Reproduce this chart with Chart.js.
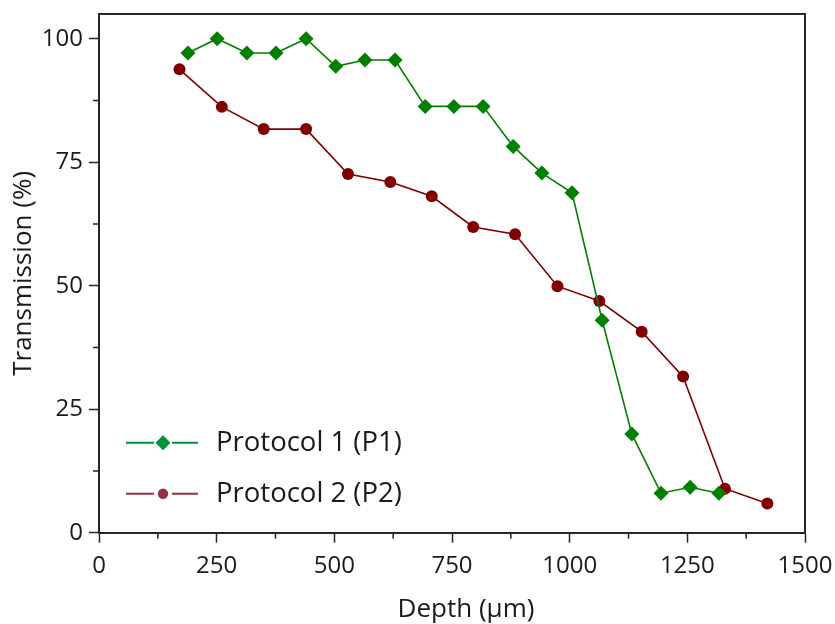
<!DOCTYPE html>
<html>
<head>
<meta charset="utf-8">
<script src="https://cdn.jsdelivr.net/npm/chart.js@4.4.0/dist/chart.umd.min.js"></script>
<style>
  html, body { margin: 0; padding: 0; background: #ffffff; }
  #wrap { width: 835px; height: 624px; position: relative; }
</style>
</head>
<body>
<div id="wrap"><canvas id="c" width="835" height="624"></canvas></div>
<script>
// ---- data ----
const p1Depth = [189, 251, 314, 376, 440, 503, 565, 629, 693, 754, 816, 880, 941, 1005, 1069, 1132, 1194, 1256, 1317];
const p1Trans = [97.1, 100, 97.1, 97.1, 100, 94.4, 95.7, 95.7, 86.3, 86.3, 86.3, 78.2, 72.8, 68.8, 43.0, 20.0, 8.0, 9.2, 8.0];
const p2Depth = [171, 261, 350, 440, 529, 619, 707, 795, 884, 974, 1063, 1153, 1241, 1330, 1420];
const p2Trans = [93.8, 86.2, 81.7, 81.7, 72.6, 71.0, 68.1, 61.9, 60.4, 49.9, 46.9, 40.7, 31.6, 8.9, 5.9];
const seriesNames = ['Protocol 1 (P1)', 'Protocol 2 (P2)'];
const xTickValues = [0, 250, 500, 750, 1000, 1250, 1500];
const yTickValues = [0, 25, 50, 75, 100];
const xTitle = 'Depth (\u00b5m)';
const yTitle = 'Transmission (%)';

const FONT = '"Open Sans", "Noto Sans", sans-serif';
const TXT = '#1a1a1a';
const AX = '#262626';

function pts(xs, ys) { return xs.map((x, i) => ({ x: x, y: ys[i] })); }

const framePlugin = {
  id: 'frame',
  afterDraw(chart) {
    const ctx = chart.ctx;
    const a = chart.chartArea;
    const xs = chart.scales.x, ys = chart.scales.y;
    ctx.save();
    // top & right frame
    ctx.strokeStyle = AX;
    ctx.lineWidth = 2;
    ctx.beginPath();
    ctx.moveTo(a.left, a.top);
    ctx.lineTo(a.right, a.top);
    ctx.lineTo(a.right, a.bottom);
    ctx.stroke();
    // minor ticks
    ctx.lineWidth = 1.5;
    ctx.beginPath();
    for (let i = 0; i < xTickValues.length - 1; i++) {
      const px = xs.getPixelForValue((xTickValues[i] + xTickValues[i + 1]) / 2);
      ctx.moveTo(px, a.bottom);
      ctx.lineTo(px, a.bottom + 6);
    }
    for (let i = 0; i < yTickValues.length - 1; i++) {
      const py = ys.getPixelForValue((yTickValues[i] + yTickValues[i + 1]) / 2);
      ctx.moveTo(a.left, py);
      ctx.lineTo(a.left - 6, py);
    }
    ctx.stroke();
    // x axis title (offset like the reference)
    ctx.fillStyle = TXT;
    ctx.font = '26px ' + FONT;
    ctx.textAlign = 'center';
    ctx.textBaseline = 'alphabetic';
    ctx.fillText(xTitle, (a.left + a.right) / 2 + 14, a.bottom + 84);
    // legend
    const items = [
      { name: seriesNames[0], color: '#008f3c', style: 'diamond', dy: 0 },
      { name: seriesNames[1], color: '#953142', style: 'circle', dy: 51 }
    ];
    const lx = a.left + 27, ly = a.bottom - 90;
    items.forEach(it => {
      const y = ly + it.dy;
      const cx = lx + 37;
      ctx.strokeStyle = it.color;
      ctx.fillStyle = it.color;
      ctx.lineWidth = 2;
      ctx.beginPath();
      ctx.moveTo(lx, y); ctx.lineTo(cx - 9, y);
      ctx.moveTo(cx + 9, y); ctx.lineTo(lx + 72, y);
      ctx.stroke();
      ctx.beginPath();
      if (it.style === 'diamond') {
        ctx.moveTo(cx - 7.5, y); ctx.lineTo(cx, y - 7.5); ctx.lineTo(cx + 7.5, y); ctx.lineTo(cx, y + 7.5);
        ctx.closePath();
      } else {
        ctx.arc(cx, y, 5.2, 0, Math.PI * 2);
      }
      ctx.fill();
      ctx.fillStyle = TXT;
      ctx.font = '27.5px ' + FONT;
      ctx.textAlign = 'left';
      ctx.textBaseline = 'middle';
      ctx.fillText(it.name, lx + 90, y);
    });
    ctx.restore();
  }
};

new Chart(document.getElementById('c'), {
  type: 'scatter',
  data: {
    datasets: [
      {
        label: seriesNames[0],
        data: pts(p1Depth, p1Trans),
        showLine: true,
        borderColor: '#008000',
        backgroundColor: '#008000',
        borderWidth: 1.6,
        pointStyle: 'rectRot',
        pointRadius: 7.5,
        pointBorderWidth: 0,
        pointHoverRadius: 7.5
      },
      {
        label: seriesNames[1],
        data: pts(p2Depth, p2Trans),
        showLine: true,
        borderColor: '#800000',
        backgroundColor: '#800000',
        borderWidth: 1.6,
        pointStyle: 'circle',
        pointRadius: 6,
        pointBorderWidth: 0,
        pointHoverRadius: 6
      }
    ]
  },
  options: {
    responsive: false,
    animation: false,
    layout: { padding: { top: 14, right: 30, left: 0, bottom: 0 } },
    plugins: { legend: { display: false }, tooltip: { enabled: false } },
    scales: {
      x: {
        type: 'linear', min: 0, max: 1500,
        afterBuildTicks(s) { s.ticks = xTickValues.map(v => ({ value: v })); },
        afterFit(s) { s.height = 91.3; s.paddingLeft = 0; s.paddingRight = 0; },
        border: { color: AX, width: 2 },
        grid: { display: true, drawOnChartArea: false, drawTicks: true, tickLength: 10, tickColor: AX, tickWidth: 1.5 },
        ticks: { color: TXT, font: { family: FONT, size: 24 }, padding: 9, maxRotation: 0,
                 callback: v => String(v) },
        title: { display: false }
      },
      y: {
        type: 'linear', min: 0, max: 105,
        afterBuildTicks(s) { s.ticks = yTickValues.map(v => ({ value: v })); },
        afterFit(s) { s.width = 99; s.paddingTop = 0; s.paddingBottom = 0; },
        border: { color: AX, width: 2 },
        grid: { display: true, drawOnChartArea: false, drawTicks: true, tickLength: 10, tickColor: AX, tickWidth: 1.5 },
        ticks: { color: TXT, font: { family: FONT, size: 24 }, padding: 6,
                 callback: v => String(v) },
        title: { display: true, text: yTitle, color: TXT, font: { family: FONT, size: 26 }, padding: { top: 8, bottom: 0 } }
      }
    }
  },
  plugins: [framePlugin]
});
</script>
</body>
</html>
